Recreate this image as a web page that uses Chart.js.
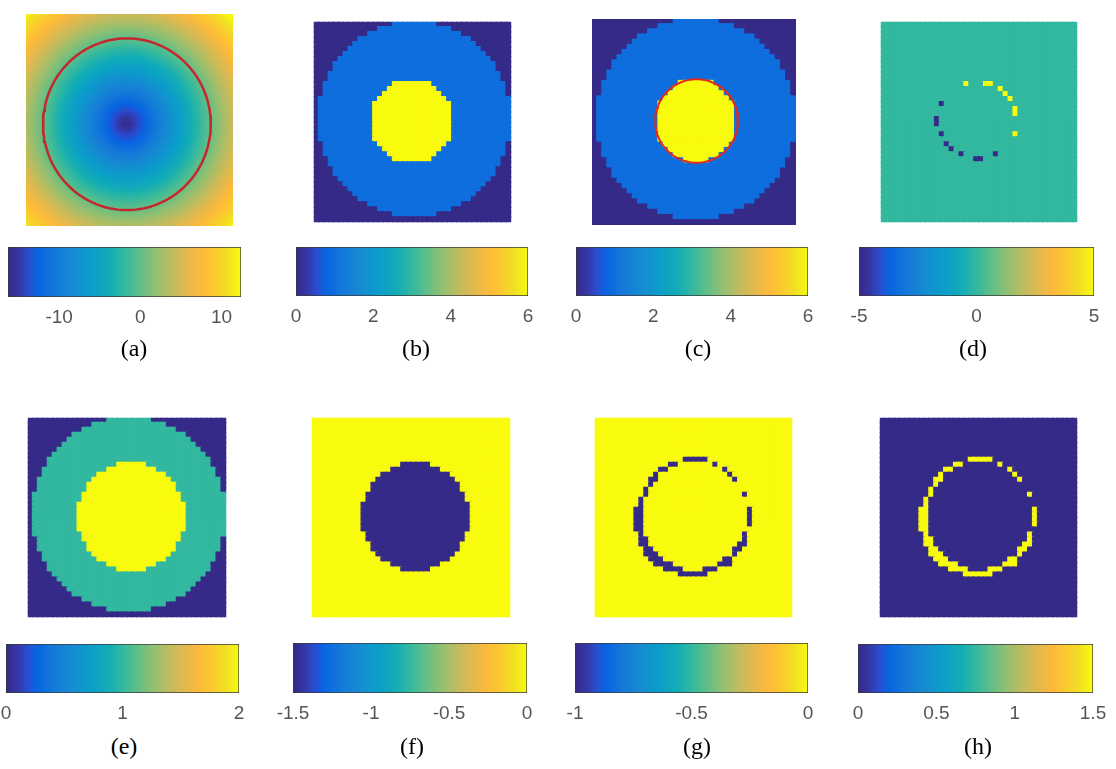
<!DOCTYPE html>
<html>
<head>
<meta charset="utf-8">
<script src="https://cdn.jsdelivr.net/npm/chart.js@4.4.1/dist/chart.umd.min.js"></script>
<style>
  body { margin: 0; background: #fff; width: 1116px; height: 769px; position: relative; overflow: hidden; }
  canvas { position: absolute; }
  .lbl { position: absolute; font-family: "Liberation Serif", "Times New Roman", serif; color: #000;
         line-height: 1; transform: translate(-50%, -50%); white-space: nowrap; }
</style>
</head>
<body>
<script>
// every image is a 40 x 40 grid of cells
const gridSize = 40;
// the smooth level set of (a) is sampled finer
const cellSplit = [3, 1, 1, 1, 1, 1, 1, 1];

const panelNames = ['(a)', '(b)', '(c)', '(d)', '(e)', '(f)', '(g)', '(h)'];

// colour bar range and tick labels of each panel
const barRanges = [[-16.3, 12.4], [0, 6], [0, 6], [-5, 5], [0, 2], [-1.5, 0], [-1, 0], [0, 1.5]];
const barTicks = [[-10, 0, 10], [0, 2, 4, 6], [0, 2, 4, 6], [-5, 0, 5], [0, 1, 2], [-1.5, -1, -0.5, 0], [-1, -0.5, 0], [0, 0.5, 1, 1.5]];

// (a) level set function: signed distance to a circle [cx, cy, r]
const levelSetCircle = [19.5, 20.8, 16.2];

// discs painted on a background: [cx, cy, r, value]
const discsB = [[20.5, 19.5, 19.5, 1], [20, 20, 8.4, 6]];
const discsC = [[20.5, 19.5, 19.5, 1], [20.5, 19.8, 8, 6]];
const discsE = [[20.5, 19.5, 19.5, 1], [21, 20, 10.9, 2]];
const discsF = [[21, 20, 10.9, -1.5]];

// red zero contours [cx, cy, r]
const contourA = [19.5, 20.8, 16.2];
const contourC = [20.5, 19.8, 8.1];

// (d) scattered cells [col, row]
const dPositive = [[17, 12], [21, 12], [22, 12], [24, 13], [25, 14], [26, 15], [27, 17], [27, 18], [27, 22]];
const dNegative = [[12, 16], [11, 19], [11, 20], [12, 22], [13, 24], [14, 25], [16, 26], [19, 27], [20, 27], [23, 26]];

// (g)/(h) broken ring as runs [row, firstCol, lastCol]
const ringRuns = [
  [8, 18, 22],
  [9, 15, 16], [9, 24, 24],
  [10, 13, 14], [10, 26, 26],
  [11, 12, 12], [11, 27, 27],
  [12, 11, 12], [12, 28, 28],
  [13, 11, 11],
  [14, 10, 10],
  [15, 10, 10], [15, 30, 30],
  [16, 9, 9],
  [17, 9, 9],
  [18, 8, 9], [18, 31, 31],
  [19, 8, 9], [19, 31, 31],
  [20, 8, 9], [20, 31, 31],
  [21, 8, 9], [21, 31, 31],
  [22, 8, 9],
  [23, 9, 9], [23, 30, 30],
  [24, 9, 10], [24, 30, 30],
  [25, 9, 10], [25, 29, 30],
  [26, 10, 11], [26, 28, 29],
  [27, 10, 12], [27, 28, 28],
  [28, 11, 13], [28, 26, 27],
  [29, 12, 15], [29, 25, 27],
  [30, 14, 17], [30, 22, 24],
  [31, 17, 22]
];

// parula-like colour map
const parulaStops = [
  [0.00, '#352a87'], [0.05, '#3537a6'], [0.09, '#2a4dd0'], [0.13, '#0864e1'], [0.20, '#1478d9'],
  [0.28, '#168bd2'], [0.36, '#0b9ec9'], [0.44, '#13adb6'], [0.50, '#33b8a0'], [0.56, '#5cbe8a'],
  [0.63, '#91bf72'], [0.70, '#bfbc5f'], [0.77, '#e4b94d'], [0.83, '#fcba3a'], [0.88, '#fbc830'],
  [0.94, '#f1de24'], [1.00, '#f9fb0e']
];

// page layout: image box and colour bar box of each panel, label centre
const layout = [
  { img: [22, 10, 215, 220], bar: [8, 247, 233, 50], lbl: [134, 348] },
  { img: [309, 17, 207, 210], bar: [296, 247, 232, 49], lbl: [416, 348] },
  { img: [587, 14, 214, 216], bar: [576, 247, 232, 49], lbl: [698, 348] },
  { img: [876, 17, 206, 210], bar: [859, 247, 235, 49], lbl: [973, 348] },
  { img: [23, 413, 208, 209], bar: [6, 644, 233, 49], lbl: [124, 746] },
  { img: [307, 413, 208, 209], bar: [293, 643, 234, 50], lbl: [412, 746] },
  { img: [590, 413, 207, 209], bar: [575, 643, 233, 50], lbl: [697, 746] },
  { img: [875, 413, 207, 209], bar: [858, 644, 235, 49], lbl: [978, 746] }
];

const hex = h => [1, 3, 5].map(k => parseInt(h.substr(k, 2), 16));
function parula(t) {
  t = Math.max(0, Math.min(1, t));
  for (let k = 1; k < parulaStops.length; k++) {
    const [t1, c1] = parulaStops[k];
    if (t <= t1) {
      const [t0, c0] = parulaStops[k - 1];
      const f = (t - t0) / (t1 - t0);
      const a = hex(c0), b = hex(c1);
      return 'rgb(' + a.map((v, i) => Math.round(v + (b[i] - v) * f)).join(',') + ')';
    }
  }
  return parulaStops[parulaStops.length - 1][1];
}

function emptyGrid(bg, n) {
  n = n || gridSize;
  return Array.from({ length: n }, () => Array(n).fill(bg));
}
function paintDiscs(g, discs) {
  discs.forEach(([cx, cy, r, v]) => {
    for (let j = 0; j < gridSize; j++)
      for (let i = 0; i < gridSize; i++)
        if ((i + 0.5 - cx) ** 2 + (j + 0.5 - cy) ** 2 <= r * r) g[j][i] = v;
  });
  return g;
}
function paintCells(g, cells, v) {
  cells.forEach(([c, r]) => { g[r][c] = v; });
  return g;
}
function paintRuns(g, runs, v) {
  runs.forEach(([r, c0, c1]) => { for (let c = c0; c <= c1; c++) g[r][c] = v; });
  return g;
}

const splitA = cellSplit[0];
const gridA = emptyGrid(0, gridSize * splitA).map((row, j) => row.map((v, i) => {
  const [cx, cy, r] = levelSetCircle;
  return Math.hypot((i + 0.5) / splitA - cx, (j + 0.5) / splitA - cy) - r;
}));

const grids = [
  gridA,
  paintDiscs(emptyGrid(0), discsB),
  paintDiscs(emptyGrid(0), discsC),
  paintCells(paintCells(emptyGrid(0), dPositive, 5), dNegative, -5),
  paintDiscs(emptyGrid(0), discsE),
  paintDiscs(emptyGrid(0), discsF),
  paintRuns(emptyGrid(0), ringRuns, -1),
  paintRuns(emptyGrid(0), ringRuns, 1.5)
];

const contours = [
  [{ circle: contourA, color: '#c4282c', width: 2.5 }],
  [], [{ circle: contourC, color: '#e42a1c', width: 2 }],
  [], [], [], [], []
];

function circlePoints([cx, cy, r]) {
  const pts = [];
  for (let k = 0; k <= 120; k++) {
    const a = k / 120 * Math.PI * 2;
    pts.push({ x: cx + r * Math.cos(a), y: cy + r * Math.sin(a) });
  }
  return pts;
}

function addCanvas(x, y, w, h) {
  const c = document.createElement('canvas');
  c.width = w; c.height = h;
  c.style.left = x + 'px'; c.style.top = y + 'px';
  c.style.width = w + 'px'; c.style.height = h + 'px';
  document.body.appendChild(c);
  return c;
}

const tickFont = { family: '"Liberation Sans", Arial, Helvetica, sans-serif', size: 19 };

function drawImage(p) {
  const [x, y, w, h] = layout[p].img;
  const [lo, hi] = barRanges[p];
  const g = grids[p];
  const s = cellSplit[p];
  const n = gridSize * s;
  const pts = [], colors = [];
  for (let j = 0; j < n; j++)
    for (let i = 0; i < n; i++) {
      pts.push({ x: (i + 0.5) / s, y: (j + 0.5) / s });
      colors.push(parula((g[j][i] - lo) / (hi - lo)));
    }
  // square side = cell + 1.5px so neighbours overlap and no seams show
  const side = Math.max(w, h) / n + 1.5;
  const lines = contours[p].map(c => ({
    data: circlePoints(c.circle), showLine: true, borderColor: c.color, borderWidth: c.width,
    pointRadius: 0, tension: 0
  }));
  new Chart(addCanvas(x, y, w, h), {
    type: 'scatter',
    data: {
      datasets: [...lines, {
        data: pts, pointStyle: 'rect', pointRadius: side / Math.SQRT2,
        pointBackgroundColor: colors, pointBorderWidth: 0
      }]
    },
    options: {
      responsive: false, animation: false, events: [],
      layout: { padding: 0 },
      plugins: { legend: { display: false }, tooltip: { enabled: false } },
      scales: {
        x: { type: 'linear', min: 0, max: gridSize, display: false },
        y: { type: 'linear', min: 0, max: gridSize, reverse: true, display: false }
      }
    }
  });
}

const axisHeight = 40;

function drawColorBar(p) {
  const [x, y, w, h] = layout[p].bar;
  const range = barRanges[p];
  const padX = 44;
  new Chart(addCanvas(x - padX, y, w + 2 * padX, h + axisHeight), {
    type: 'bar',
    data: {
      labels: [''],
      datasets: [{
        data: [range],
        backgroundColor: ctx => {
          const ca = ctx.chart.chartArea;
          if (!ca) return '#888';
          const grad = ctx.chart.ctx.createLinearGradient(ca.left, 0, ca.right, 0);
          parulaStops.forEach(([t, c]) => grad.addColorStop(t, c));
          return grad;
        },
        borderColor: '#3a3a3a', borderWidth: 1, borderSkipped: false,
        categoryPercentage: 1, barPercentage: 1
      }]
    },
    options: {
      indexAxis: 'y', responsive: false, animation: false, events: [],
      layout: { padding: { left: padX, right: padX, top: 0, bottom: 0 } },
      plugins: { legend: { display: false }, tooltip: { enabled: false } },
      scales: {
        x: {
          type: 'linear', min: range[0], max: range[1],
          grid: { display: false, drawTicks: false }, border: { display: false },
          afterBuildTicks: s => { s.ticks = barTicks[p].map(v => ({ value: v })); },
          afterFit: s => { s.height = axisHeight; },
          ticks: { padding: 9, color: '#555', font: tickFont, maxRotation: 0, autoSkip: false, callback: v => String(v) }
        },
        y: { display: false }
      }
    }
  });
}

panelNames.forEach((name, p) => {
  drawImage(p);
  drawColorBar(p);
  const d = document.createElement('div');
  d.className = 'lbl';
  d.textContent = name;
  d.style.left = layout[p].lbl[0] + 'px';
  d.style.top = layout[p].lbl[1] + 'px';
  d.style.fontSize = '24px';
  document.body.appendChild(d);
});
</script>
</body>
</html>
